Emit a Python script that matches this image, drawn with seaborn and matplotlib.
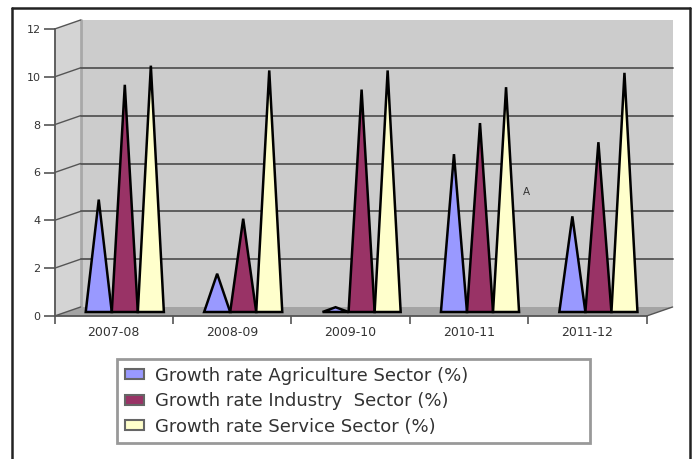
import matplotlib
matplotlib.use("Agg")
import matplotlib.pyplot as plt
import seaborn as sns
import pandas as pd
from matplotlib.patches import Polygon
from matplotlib.lines import Line2D
from matplotlib import transforms

# Growth rates by sector (%)
years = ["2007-08", "2008-09", "2009-10", "2010-11", "2011-12"]
agriculture = [4.7, 1.6, 0.2, 6.6, 4.0]
industry = [9.5, 3.9, 9.3, 7.9, 7.1]
service = [10.3, 10.1, 10.1, 9.4, 10.0]
series_names = ["Growth rate Agriculture Sector (%)",
                "Growth rate Industry  Sector (%)",
                "Growth rate Service Sector (%)"]
y_ticks = [0, 2, 4, 6, 8, 10, 12]
colors = ["#9999ff", "#993366", "#ffffcc"]

df = pd.DataFrame({
    "Year": years * 3,
    "Sector": [name for name in series_names for _ in years],
    "Value": agriculture + industry + service,
})

sns.set_style("white")
plt.rcParams["font.family"] = ["DejaVu Sans"]

W, H = 695, 459
fig = plt.figure(figsize=(W / 100, H / 100), dpi=100)
fig.patch.set_facecolor("white")


def fx(px):
    return px / W


def fy(py):
    return 1 - py / H


left, right, top, bottom = 54.6, 646.6, 29, 316
ax = fig.add_axes([fx(left), fy(bottom), fx(right - left), (bottom - top) / H])

sns.barplot(data=df, x="Year", y="Value", hue="Sector", order=years,
            hue_order=series_names, palette=colors, saturation=1,
            width=0.66, gap=0, errorbar=None, ax=ax)
ax.set_xlim(-0.5, 4.5)
ax.set_ylim(0, 12)
ax.patch.set_visible(False)

# depth offsets (pixels) for the back wall and the plane of the cones
BACK = (26, 9)
MID = (11, 4)
mid_tr = transforms.offset_copy(ax.transData, fig=fig, x=MID[0], y=MID[1], units="dots")


def fig_pt(x, y, d=(0, 0)):
    px, py = ax.transData.transform((x, y))
    return fig.transFigure.inverted().transform((px + d[0], py + d[1]))


def add_poly(pts, fc, z):
    poly = Polygon(pts, closed=True, transform=fig.transFigure, fc=fc,
                   ec="none", zorder=z, clip_on=False)
    ax.add_artist(poly)


def add_line(p0, p1, color="#555555", lw=1.2, z=1):
    ax.add_artist(Line2D([p0[0], p1[0]], [p0[1], p1[1]], transform=fig.transFigure,
                         color=color, lw=lw, zorder=z, clip_on=False))


x0, x1 = -0.5, 4.5
# back wall
add_poly([fig_pt(x0, 0, BACK), fig_pt(x1, 0, BACK), fig_pt(x1, 12, BACK),
          fig_pt(x0, 12, BACK)], "#cccccc", 0.1)
# side wall
add_poly([fig_pt(x0, 0), fig_pt(x0, 12), fig_pt(x0, 12, BACK), fig_pt(x0, 0, BACK)],
         "#d4d4d4", 0.2)
# floor
add_poly([fig_pt(x0, 0), fig_pt(x1, 0), fig_pt(x1, 0, BACK), fig_pt(x0, 0, BACK)],
         "#a4a4a4", 0.2)
add_line(fig_pt(x0, 0, BACK), fig_pt(x0, 12, BACK), color="#a8a8a8", lw=2, z=0.3)

for v in y_ticks[1:-1]:
    add_line(fig_pt(x0, v, BACK), fig_pt(x1, v, BACK), color="#555555", lw=1.3, z=0.5)
for v in y_ticks:
    add_line(fig_pt(x0, v), fig_pt(x0, v, BACK), color="#555555", lw=1.0, z=0.5)
add_line(fig_pt(x1, 0), fig_pt(x1, 0, BACK), color="#555555", lw=1.0, z=0.5)

# cones drawn from the bar geometry
for cont in ax.containers:
    for bar in cont:
        bx, bw, bh = bar.get_x(), bar.get_width(), bar.get_height()
        tri = Polygon([(bx, 0), (bx + bw / 2, bh), (bx + bw, 0)], closed=True,
                      transform=mid_tr, fc=bar.get_facecolor(), ec="black",
                      lw=1.8, joinstyle="miter", zorder=3, clip_on=False)
        ax.add_patch(tri)
        bar.set_visible(False)

# axes styling
for side in ["top", "right"]:
    ax.spines[side].set_visible(False)
for side in ["left", "bottom"]:
    ax.spines[side].set_color("#555555")
    ax.spines[side].set_linewidth(1.3)
    ax.spines[side].set_zorder(4)

ax.set_yticks(y_ticks)
ax.set_yticklabels([str(v) for v in y_ticks])
ax.set_xticks(range(len(years)))
ax.set_xticklabels(years)
ax.set_xticks([i - 0.5 for i in range(len(years) + 1)], minor=True)
ax.tick_params(axis="y", which="major", direction="out", length=8, width=1.2,
               color="#555555", labelsize=8, labelcolor="#333333", pad=2, left=True)
ax.tick_params(axis="x", which="major", length=0, labelsize=9,
               labelcolor="#333333", pad=7)
ax.tick_params(axis="x", which="minor", direction="out", length=6, width=1.2,
               color="#555555", bottom=True)
ax.set_xlabel("")
ax.set_ylabel("")

ax.text(3.456, 5.19, "A", fontsize=7.5, color="#333333", ha="left", va="center", zorder=5)

# legend built from the seaborn handles
old = ax.get_legend()
handles = list(old.legend_handles)
labels = [t.get_text() for t in old.get_texts()]
old.remove()
for h in handles:
    h.set_edgecolor("#666666")
    h.set_linewidth(1.5)

leg = fig.legend(handles, labels, loc="upper left",
                 bbox_to_anchor=(fx(117), fy(437), fx(590 - 117), (437 - 359) / H),
                 mode="expand", fontsize=13, frameon=True, fancybox=False,
                 handlelength=1.1, handleheight=0.5, handletextpad=0.6,
                 labelspacing=0.42, borderpad=0.42, borderaxespad=0)
leg.get_frame().set_edgecolor("#808080")
leg.get_frame().set_linewidth(2)
for t in leg.get_texts():
    t.set_color("#333333")

# outer frame
fig.add_artist(Line2D([fx(12), fx(12)], [fy(8), 0], color="#222222", lw=1.8))
fig.add_artist(Line2D([fx(12), fx(690)], [fy(8), fy(8)], color="#222222", lw=1.8))
fig.add_artist(Line2D([fx(690), fx(690)], [fy(8), 0], color="#222222", lw=1.8))

fig.savefig("out.png", dpi=100)
